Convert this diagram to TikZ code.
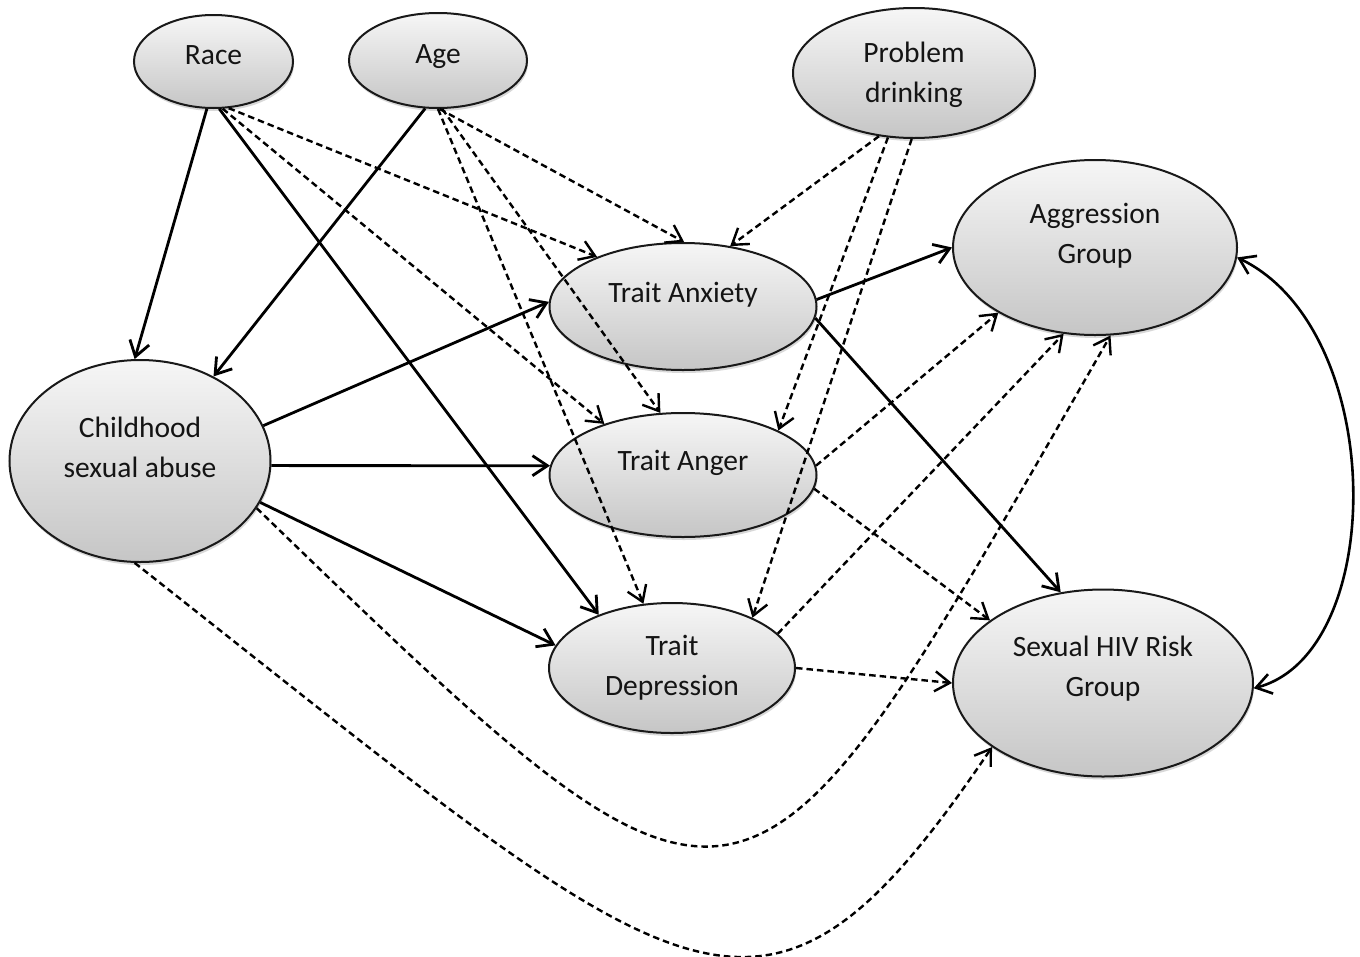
\documentclass[tikz,border=0pt]{standalone}
\usepackage{fontspec}
\setmainfont{Carlito}
\usetikzlibrary{shapes.geometric,arrows.meta,shadows}
\begin{document}
\begin{tikzpicture}[x=1pt,y=-1pt,
  >={Straight Barb[length=15pt,width=20pt]},
  var/.style={ellipse, draw=black!90, line width=2pt, top color=gray!7, bottom color=gray!45,
    inner sep=0pt,
    drop shadow={shadow xshift=1pt, shadow yshift=-3pt, opacity=0.3}},
  txt/.style={align=center, inner sep=0pt, font=\fontsize{29.5}{40}\selectfont, text=black!92},
  sol/.style={line width=2.8pt, ->},
  dsh/.style={line width=2.4pt, ->, dash pattern=on 6.5pt off 4pt},
]
\useasboundingbox[fill=white] (0,0) rectangle (1360,956);

\node[var, minimum width=159pt, minimum height=93pt, label={[txt, yshift=6pt]center:Race}] (race) at (213.5,61.5) {};
\node[var, minimum width=178pt, minimum height=95pt, label={[txt, yshift=4pt]center:Age}] (age) at (438,60.5) {};
\node[var, minimum width=242pt, minimum height=130pt, label={[txt, yshift=-2pt]center:Problem\\drinking}] (pd) at (914,73) {};
\node[var, minimum width=261pt, minimum height=202pt, label={[txt, yshift=14pt]center:Childhood\\sexual abuse}] (csa) at (140,461) {};
\node[var, minimum width=267pt, minimum height=127pt, label={[txt, yshift=12pt]center:Trait Anxiety}] (tax) at (683,306.5) {};
\node[var, minimum width=267pt, minimum height=124pt, label={[txt, yshift=12pt]center:Trait Anger}] (tan) at (683,475) {};
\node[var, minimum width=246pt, minimum height=130pt, label={[txt]center:Trait\\Depression}] (td) at (672,668) {};
\node[var, minimum width=284pt, minimum height=175pt, label={[txt, yshift=12pt]center:Aggression\\Group}] (agg) at (1095,247.5) {};
\node[var, minimum width=300pt, minimum height=187pt, label={[txt, yshift=14pt]center:Sexual HIV Risk\\Group}] (hiv) at (1103,683) {};

\draw[sol] (race.262) -- (csa.93);
\draw[sol] (race.277) -- (td.144);
\draw[dsh] (race.288) -- (tax.150);
\draw[dsh] (race.281) -- (tan.147);
\draw[sol] (age.255) -- (csa.49);
\draw[dsh] (age.272) -- (tax.89);
\draw[dsh] (age.275) -- (tan.110);
\draw[dsh] (age.270) -- (td.114);
\draw[dsh] (pd.241) -- (tax.52);
\draw[dsh] (pd.248) -- (tan.25);
\draw[dsh] (pd.268) -- (td.32);
\draw[sol] (csa.16) -- (tax.178);
\draw[sol] (csa.358) -- (tan.176);
\draw[sol] (csa.341) -- (td.169);
\draw[dsh] (csa.338) .. controls (755,990) and (741,978) .. (agg.280);
\draw[dsh] (csa.267) .. controls (690,1000) and (760,1090) .. (hiv.210);
\draw[sol] (tax.3) -- (agg.180);
\draw[sol] (tax.355) -- (hiv.115);
\draw[dsh] (tan.4) -- (agg.214);
\draw[dsh] (tan.354) -- (hiv.151);
\draw[dsh] (td.18) -- (agg.250);
\draw[dsh] (td.0) -- (hiv.180);
\draw[line width=2.6pt, <->] (agg.356) .. controls (1388,330) and (1388,653) .. (hiv.358);
\end{tikzpicture}
\end{document}
